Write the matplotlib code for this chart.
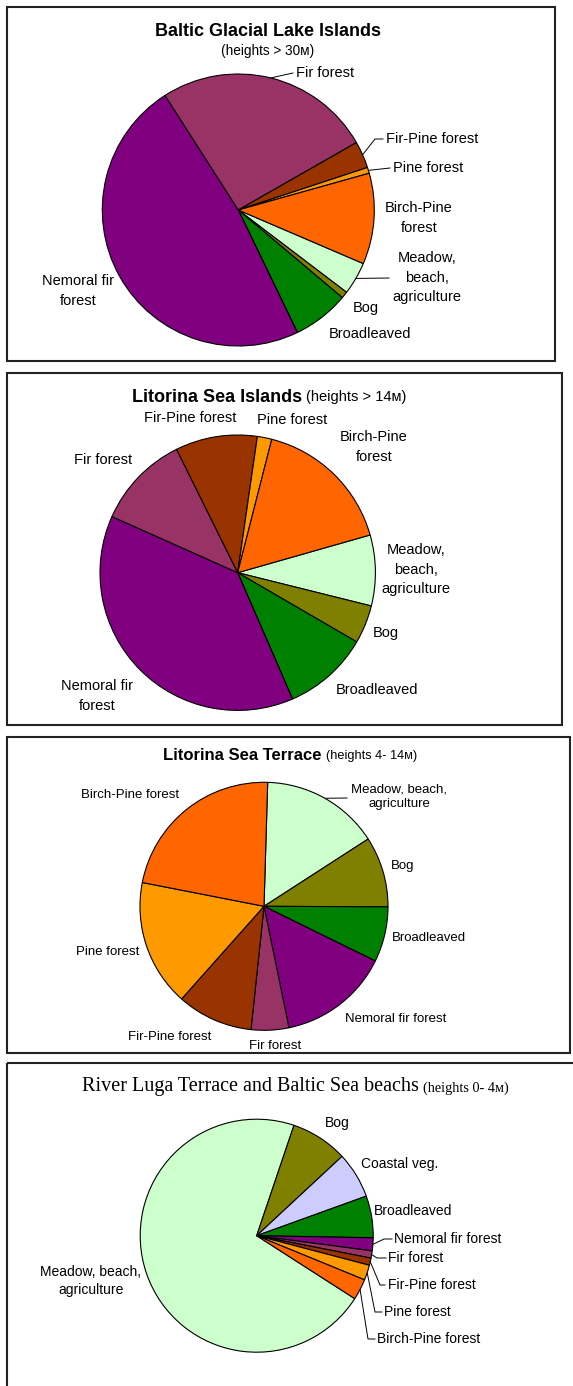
import numpy as np
import matplotlib.pyplot as plt
from matplotlib.patches import Rectangle

plt.rcParams["font.family"] = ["Liberation Sans", "DejaVu Sans"]

W, H = 573, 1386

# colours per vegetation type
COLORS = {
    "Meadow": "#CCFFCC",
    "Bog": "#808000",
    "Coastal": "#CCCCFF",
    "Broadleaved": "#008000",
    "Nemoral": "#800080",
    "Fir": "#993366",
    "FirPine": "#993300",
    "Pine": "#FF9900",
    "BirchPine": "#FF6600",
}

# ----- data (percent of area) -----
types8 = ["Meadow", "Bog", "Broadleaved", "Nemoral", "Fir", "FirPine", "Pine", "BirchPine"]
types9 = ["Meadow", "Bog", "Coastal", "Broadleaved", "Nemoral", "Fir", "FirPine", "Pine", "BirchPine"]

baltic_lake = [3.9, 0.8, 6.7, 48.1, 25.8, 3.2, 0.7, 10.8]
litorina_islands = [8.3, 4.5, 10.1, 38.2, 11.0, 9.6, 1.7, 16.6]
litorina_terrace = [15.4, 9.2, 7.2, 14.5, 4.9, 9.9, 16.5, 22.4]
luga_terrace = [71.1, 7.9, 6.4, 5.8, 1.8, 1.0, 1.0, 2.1, 2.9]

labels1 = {
    "Meadow": "Meadow,\nbeach,\nagriculture", "Bog": "Bog", "Broadleaved": "Broadleaved",
    "Nemoral": "Nemoral fir\nforest", "Fir": "Fir forest", "FirPine": "Fir-Pine forest",
    "Pine": "Pine forest", "BirchPine": "Birch-Pine\nforest",
}
labels2 = dict(labels1)
labels3 = {
    "Meadow": "Meadow, beach,\nagriculture", "Bog": "Bog", "Broadleaved": "Broadleaved",
    "Nemoral": "Nemoral fir forest", "Fir": "Fir forest", "FirPine": "Fir-Pine forest",
    "Pine": "Pine forest", "BirchPine": "Birch-Pine forest",
}
labels4 = dict(labels3, Coastal="Coastal veg.")

fig = plt.figure(figsize=(W / 100, H / 100), dpi=100)
bg = fig.add_axes([0, 0, 1, 1])
bg.set_xlim(0, W)
bg.set_ylim(H, 0)
bg.axis("off")


def frame(x0, y0, x1, y1):
    bg.add_patch(Rectangle((x0, y0), x1 - x0, y1 - y0, fill=False,
                           edgecolor="#222222", linewidth=1.5))


def pie_panel(cx, cy, r, names, values, first_angle, labels, pos, leaders,
              fs, spacing=1.5):
    pad = 1.03
    ax = fig.add_axes([(cx - r * pad) / W, (H - cy - r * pad) / H,
                       2 * r * pad / W, 2 * r * pad / H])
    ax.pie(values, colors=[COLORS[n] for n in names], startangle=90 - first_angle,
           counterclock=False, wedgeprops=dict(edgecolor="black", linewidth=0.8))
    ax.set_xlim(-pad, pad)
    ax.set_ylim(-pad, pad)
    ax.axis("off")

    # mid angle of every wedge, clockwise from 12 o'clock
    v = np.array(values, dtype=float)
    cum = np.cumsum(v) / v.sum() * 360
    mids = first_angle + cum - v / v.sum() * 180
    for name, mid in zip(names, mids):
        x, y, ha = pos[name]
        bg.text(x, y, labels[name], ha=ha, va="center", fontsize=fs,
                linespacing=spacing, multialignment="center")
        if name in leaders:
            a = np.radians(mid)
            px = [cx + r * np.sin(a)] + [p[0] for p in leaders[name]]
            py = [cy - r * np.cos(a)] + [p[1] for p in leaders[name]]
            bg.plot(px, py, color="black", lw=0.7)


def title_line(x, y, main, sub, main_kw, sub_kw):
    t = bg.text(x, y, main, ha="left", va="center", **main_kw)
    bg.annotate(sub, xy=(1, 0), xycoords=t, xytext=(3, 1), textcoords="offset points",
                ha="left", va="bottom", **sub_kw)


# ===== Baltic Glacial Lake Islands =====
frame(7, 7, 555, 361)
bg.text(268, 31.5, "Baltic Glacial Lake Islands", ha="center", va="center",
        fontsize=13, fontweight="bold")
bg.text(268, 51, "(heights > 30м)", ha="center", va="center", fontsize=9.8)
pie_panel(238.3, 210, 136, types8, baltic_lake, 113.2, labels1,
          {"Meadow": (427, 278, "center"), "Bog": (366, 308, "center"),
           "Broadleaved": (370, 334, "center"), "Nemoral": (78, 291, "center"),
           "Fir": (296, 73, "left"), "FirPine": (386, 139, "left"),
           "Pine": (393, 168, "left"), "BirchPine": (419, 218, "center")},
          {"Fir": [(293, 73)], "FirPine": [(375, 139), (383, 139)],
           "Pine": [(390, 168)], "Meadow": [(389, 278)]},
          fs=10.5)

# ===== Litorina Sea Islands =====
frame(7, 373, 562, 725)
title_line(132, 397, "Litorina Sea Islands", "(heights > 14м)",
           dict(fontsize=13, fontweight="bold"), dict(fontsize=10.5))
pie_panel(237.7, 572.7, 137.7, types8, litorina_islands, 74.1, labels2,
          {"FirPine": (190, 418, "center"), "Pine": (292, 420, "center"),
           "BirchPine": (374, 447, "center"), "Fir": (102.6, 460, "center"),
           "Meadow": (416, 570, "center"), "Bog": (386, 633, "center"),
           "Broadleaved": (376.6, 690, "center"), "Nemoral": (97, 696, "center")},
          {}, fs=10.5)

# ===== Litorina Sea Terrace =====
frame(7, 737, 570, 1053)
title_line(163, 756, "Litorina Sea Terrace", "(heights 4- 14м)",
           dict(fontsize=12, fontweight="bold"), dict(fontsize=9.2))
pie_panel(264, 906.3, 124, types8, litorina_terrace, 1.7, labels3,
          {"BirchPine": (130, 795, "center"), "Meadow": (399, 797, "center"),
           "Bog": (403, 866, "center"), "Broadleaved": (428.6, 938, "center"),
           "Pine": (108, 952, "center"), "Nemoral": (395.6, 1019, "center"),
           "FirPine": (170, 1037, "center"), "Fir": (275.5, 1046, "center")},
          {"Meadow": [(347, 798)]}, fs=9.5, spacing=1.3)

# ===== River Luga Terrace and Baltic Sea beachs =====
frame(7, 1063, 590, 1400)
title_line(82, 1087, "River Luga Terrace and Baltic Sea beachs", "(heights 0- 4м)",
           dict(fontsize=14.5, family="Liberation Serif"),
           dict(fontsize=10.3, family="Liberation Serif"))
pie_panel(256.7, 1235.7, 116.5, types9, luga_terrace, 122.7, labels4,
          {"Bog": (337, 1123, "center"), "Coastal": (400, 1164, "center"),
           "Broadleaved": (413, 1211, "center"), "Nemoral": (394, 1239, "left"),
           "Fir": (388, 1258, "left"), "FirPine": (387.5, 1285, "left"),
           "Pine": (384, 1312, "left"), "BirchPine": (377, 1339, "left"),
           "Meadow": (91, 1281, "center")},
          {"Nemoral": [(384, 1239), (392, 1239)], "Fir": [(377, 1258), (386, 1258)],
           "FirPine": [(380, 1285), (385, 1285)], "Pine": [(375, 1312), (382, 1312)],
           "BirchPine": [(368, 1339), (375, 1339)]},
          fs=10, spacing=1.3)

fig.savefig("out.png", dpi=100)
